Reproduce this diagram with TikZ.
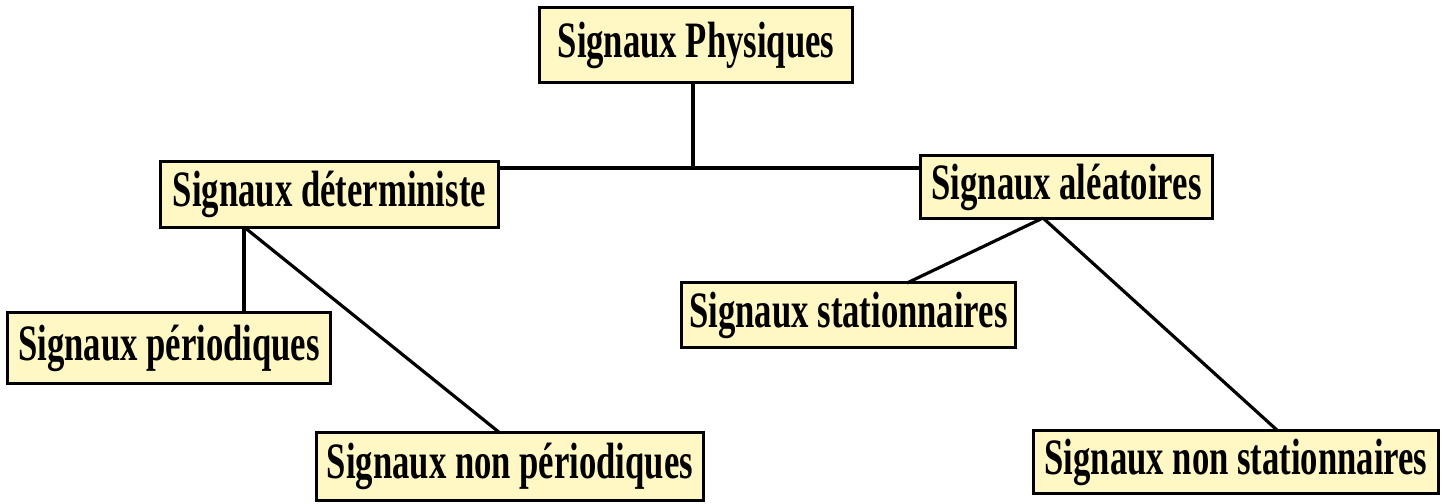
\documentclass[tikz,border=0pt]{standalone}
\usepackage{fontspec}
\newfontfamily\boxfont{Liberation Serif}[FakeStretch=0.68]
\definecolor{boxfill}{HTML}{FFF7C4}
\begin{document}
\begin{tikzpicture}[x=0.01cm,y=-0.01cm,
  sbox/.style={draw=black, line width=0.85pt, fill=boxfill, inner sep=0pt,
    font=\boxfont\bfseries\fontsize{14.5}{16}\selectfont, align=center},
  conn/.style={draw=black, line width=0.9pt},
  thickconn/.style={draw=black, line width=1.4pt}]
\useasboundingbox (0,0) rectangle (1448,504);
\node[sbox, minimum width=3.12cm, minimum height=0.74cm] (phys) at (696,45) {Signaux Physiques};
\node[sbox, minimum width=3.37cm, minimum height=0.65cm] (det) at (329.5,194.5) {Signaux déterministe};
\node[sbox, minimum width=2.91cm, minimum height=0.62cm] (ale) at (1066.5,187) {Signaux aléatoires};
\node[sbox, minimum width=3.22cm, minimum height=0.70cm] (per) at (169,348) {Signaux périodiques};
\node[sbox, minimum width=3.86cm, minimum height=0.67cm] (nper) at (510,466.5) {Signaux non périodiques};
\node[sbox, minimum width=3.33cm, minimum height=0.64cm] (stat) at (848.5,315) {Signaux stationnaires};
\node[sbox, minimum width=4.04cm, minimum height=0.62cm] (nstat) at (1236,462) {Signaux non stationnaires};
\coordinate (j) at (693,168);
\coordinate (dj) at (244,227);
\coordinate (aj) at (1043,218);
\coordinate (nperend) at (500,433);
\coordinate (statend) at (907,283);
\coordinate (nstatend) at (1278,431);
\draw[conn] (phys.south -| j) -- (j);
\draw[conn] (det.east |- j) -- (j) -- (ale.west |- j);
\draw[thickconn] (dj) -- (dj |- per.north);
\draw[conn] (dj) -- (nperend);
\draw[conn] (aj) -- (statend);
\draw[conn] (aj) -- (nstatend);
\end{tikzpicture}
\end{document}
